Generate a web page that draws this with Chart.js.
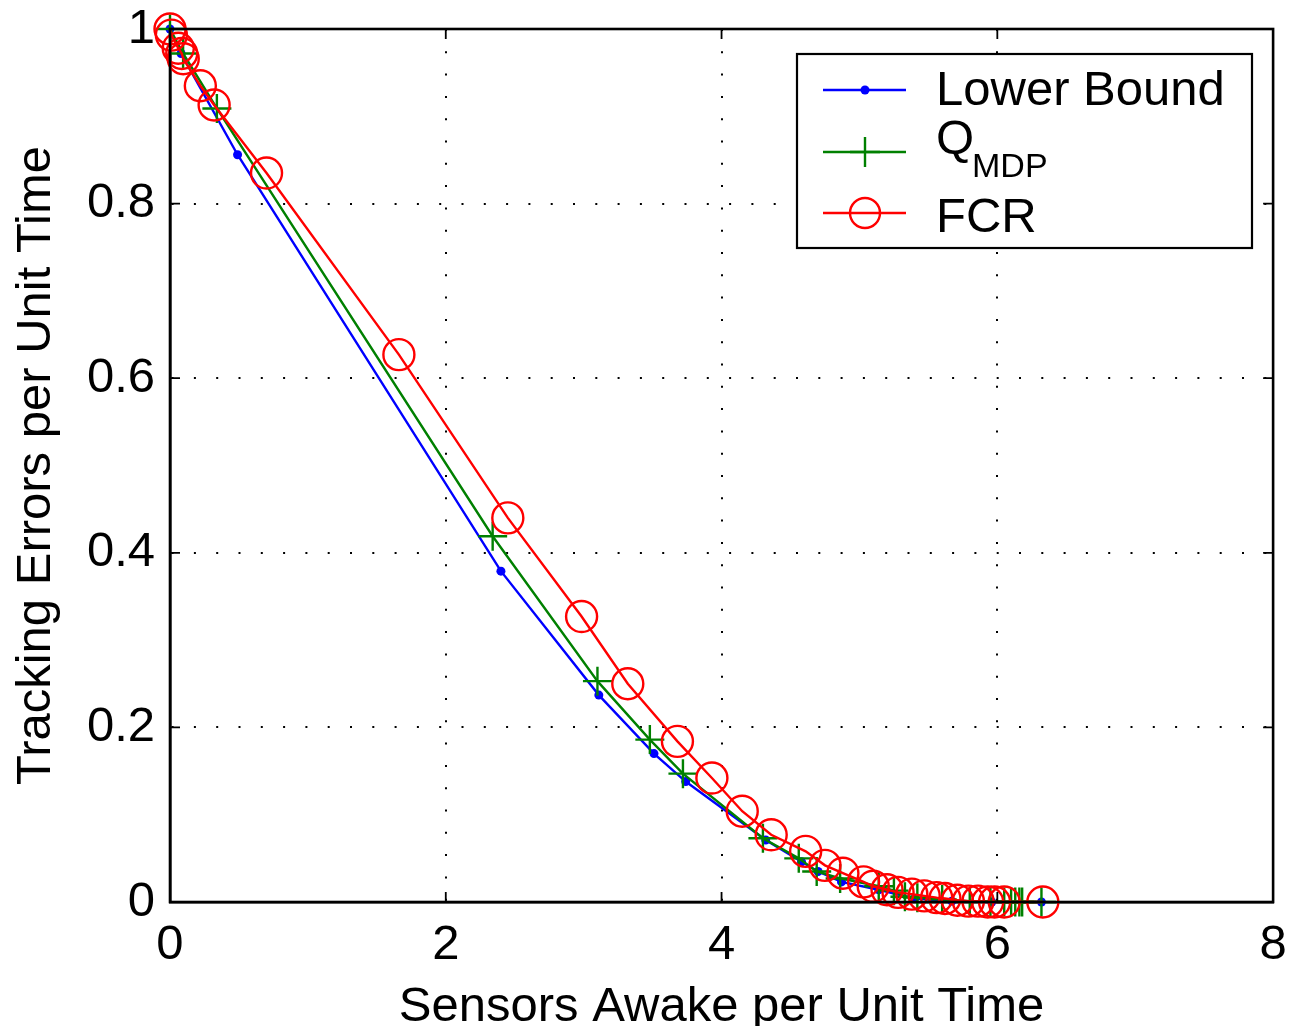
<!DOCTYPE html>
<html>
<head>
<meta charset="utf-8">
<script src="https://cdn.jsdelivr.net/npm/chart.js@4/dist/chart.umd.min.js"></script>
<style>
html,body{margin:0;padding:0;background:#fff;overflow:hidden;}
canvas{display:block;}
</style>
</head>
<body>
<canvas id="c" width="1291" height="1026"></canvas>
<script>
// ---- Data ----
const xTicks = [0, 2, 4, 6, 8];
const yTicks = [0, 0.2, 0.4, 0.6, 0.8, 1];
const xTickLabels = ['0', '2', '4', '6', '8'];
const yTickLabels = ['0', '0.2', '0.4', '0.6', '0.8', '1'];
const xTitle = 'Sensors Awake per Unit Time';
const yTitle = 'Tracking Errors per Unit Time';
const seriesNames = ['Lower Bound', 'Q', 'FCR'];
const seriesSub = ['', 'MDP', ''];

const lowerX = [0, 0.08, 0.49, 2.40, 3.11, 3.51, 3.74, 4.32, 4.58, 4.70, 4.87, 5.14, 5.40, 5.67, 5.96, 6.32];
const lowerY = [1, 0.972, 0.856, 0.379, 0.237, 0.170, 0.138, 0.071, 0.046, 0.035, 0.023, 0.014, 0.004, 0.001, 0, 0];

const qmdpX = [0, 0.095, 0.34, 2.34, 3.10, 3.48, 3.72, 4.30, 4.56, 4.69, 4.86, 5.14, 5.25, 5.33, 5.42, 5.60, 5.80, 5.95, 6.05, 6.10, 6.13, 6.16, 6.18, 6.32];
const qmdpY = [1, 0.972, 0.909, 0.419, 0.253, 0.186, 0.147, 0.073, 0.050, 0.035, 0.027, 0.018, 0.013, 0.006, 0.005, 0.003, 0.001, 0.0005, 0, 0, 0, 0, 0, 0];

const fcrX = [0, 0.01, 0.06, 0.085, 0.096, 0.22, 0.32, 0.70, 1.66, 2.45, 2.985, 3.32, 3.68, 3.93, 4.15, 4.36, 4.61, 4.75, 4.88, 5.03, 5.10, 5.20, 5.28, 5.38, 5.47, 5.56, 5.62, 5.71, 5.79, 5.86, 5.93, 5.98, 6.05, 6.33];
const fcrY = [1.0, 0.993, 0.978, 0.972, 0.966, 0.935, 0.913, 0.835, 0.627, 0.440, 0.327, 0.250, 0.184, 0.142, 0.104, 0.077, 0.058, 0.042, 0.033, 0.023, 0.018, 0.014, 0.011, 0.009, 0.007, 0.005, 0.004, 0.002, 0.001, 0.001, 0, 0, 0, 0];

const toPts = (xs, ys) => xs.map((x, i) => ({x: x, y: ys[i]}));

const FONT = '"Liberation Sans", Arial, Helvetica, sans-serif';
const BLUE = '#0000ff', GREEN = '#008000', RED = '#ff0000';

// Frame, inward ticks and legend
const framePlugin = {
  id: 'frame',
  afterDraw(chart) {
    const ctx = chart.ctx;
    const a = chart.chartArea;
    const xs = chart.scales.x, ys = chart.scales.y;
    ctx.save();
    ctx.strokeStyle = '#000';
    ctx.lineWidth = 1.8;
    const tl = 10;
    xTicks.forEach(v => {
      const px = xs.getPixelForValue(v);
      ctx.beginPath();
      ctx.moveTo(px, a.bottom); ctx.lineTo(px, a.bottom - tl);
      ctx.moveTo(px, a.top); ctx.lineTo(px, a.top + tl);
      ctx.stroke();
    });
    yTicks.forEach(v => {
      const py = ys.getPixelForValue(v);
      ctx.beginPath();
      ctx.moveTo(a.left, py); ctx.lineTo(a.left + tl, py);
      ctx.moveTo(a.right, py); ctx.lineTo(a.right - tl, py);
      ctx.stroke();
    });
    ctx.lineWidth = 2.6;
    ctx.strokeRect(a.left, a.top, a.right - a.left, a.bottom - a.top);
    ctx.restore();
  }
};

const legendPlugin = {
  id: 'mlegend',
  afterDraw(chart) {
    const ctx = chart.ctx;
    const box = {x: 797, y: 54, w: 455, h: 194};
    ctx.save();
    ctx.fillStyle = '#fff';
    ctx.fillRect(box.x, box.y, box.w, box.h);
    ctx.strokeStyle = '#000';
    ctx.lineWidth = 2.2;
    ctx.strokeRect(box.x, box.y, box.w, box.h);
    const rowsY = [90, 152, 213];
    const colors = [BLUE, GREEN, RED];
    const x1 = 823, x2 = 906, mx = 865;
    rowsY.forEach((ry, i) => {
      ctx.strokeStyle = colors[i];
      ctx.lineWidth = 2.4;
      ctx.beginPath(); ctx.moveTo(x1, ry); ctx.lineTo(x2, ry); ctx.stroke();
      if (i === 0) {
        ctx.fillStyle = BLUE;
        ctx.beginPath(); ctx.arc(mx, ry, 4.5, 0, Math.PI * 2); ctx.fill();
      } else if (i === 1) {
        ctx.beginPath();
        ctx.moveTo(mx - 15, ry); ctx.lineTo(mx + 15, ry);
        ctx.moveTo(mx, ry - 15); ctx.lineTo(mx, ry + 15);
        ctx.stroke();
      } else {
        ctx.beginPath(); ctx.arc(mx, ry, 15, 0, Math.PI * 2); ctx.stroke();
      }
    });
    ctx.fillStyle = '#000';
    ctx.textAlign = 'left';
    ctx.textBaseline = 'alphabetic';
    ctx.font = '49px ' + FONT;
    ctx.fillText(seriesNames[0], 936, 105);
    ctx.fillText(seriesNames[1], 936, 154);
    ctx.fillText(seriesNames[2], 936, 232);
    ctx.font = '34px ' + FONT;
    ctx.fillText(seriesSub[1], 972, 177);
    ctx.restore();
  }
};

new Chart(document.getElementById('c'), {
  type: 'scatter',
  data: {
    datasets: [
      {
        label: 'Lower Bound',
        data: toPts(lowerX, lowerY),
        showLine: true,
        borderColor: BLUE,
        backgroundColor: BLUE,
        borderWidth: 2.4,
        pointStyle: 'circle',
        pointRadius: 4.5,
        pointBorderWidth: 0,
        pointBackgroundColor: BLUE,
        clip: false,
        order: 3
      },
      {
        label: 'QMDP',
        data: toPts(qmdpX, qmdpY),
        showLine: true,
        borderColor: GREEN,
        backgroundColor: GREEN,
        borderWidth: 2.4,
        pointStyle: 'cross',
        pointRadius: 14.5,
        pointBorderWidth: 2.4,
        pointBorderColor: GREEN,
        clip: false,
        order: 2
      },
      {
        label: 'FCR',
        data: toPts(fcrX, fcrY),
        showLine: true,
        borderColor: RED,
        backgroundColor: 'rgba(0,0,0,0)',
        borderWidth: 2.4,
        pointStyle: 'circle',
        pointRadius: 15.5,
        pointBorderWidth: 2.4,
        pointBorderColor: RED,
        pointBackgroundColor: 'rgba(0,0,0,0)',
        clip: false,
        order: 1
      }
    ]
  },
  options: {
    responsive: false,
    animation: false,
    events: [],
    layout: {padding: {left: 0, right: 13, top: 29, bottom: 0}},
    plugins: {legend: {display: false}, tooltip: {enabled: false}, title: {display: false}},
    elements: {line: {tension: 0}},
    scales: {
      x: {
        type: 'linear',
        min: 0, max: 8,
        afterBuildTicks: s => { s.ticks = xTicks.map(v => ({value: v})); },
        afterFit: s => { s.height = 124; s.paddingLeft = 0; s.paddingRight = 0; },
        ticks: {
          padding: 14,
          color: '#000',
          font: {family: FONT, size: 49},
          maxRotation: 0,
          callback: (v) => { const i = xTicks.indexOf(v); return i >= 0 ? xTickLabels[i] : ''; }
        },
        grid: {
          color: (c) => (c.tick && (c.tick.value === 0 || c.tick.value === 8)) ? 'rgba(0,0,0,0)' : '#000',
          lineWidth: 2,
          drawTicks: false
        },
        border: {display: true, color: '#000', width: 2.6, dash: [2, 20.3]},
        title: {
          display: true,
          text: xTitle,
          color: '#000',
          font: {family: FONT, size: 49},
          padding: {top: 0, bottom: -11}
        }
      },
      y: {
        type: 'linear',
        min: 0, max: 1,
        afterBuildTicks: s => { s.ticks = yTicks.map(v => ({value: v})); },
        afterFit: s => { s.width = 170; s.paddingTop = 0; s.paddingBottom = 0; },
        ticks: {
          padding: 15,
          color: '#000',
          font: {family: FONT, size: 49},
          callback: (v) => { const i = yTicks.indexOf(v); return i >= 0 ? yTickLabels[i] : ''; }
        },
        grid: {
          color: (c) => (c.tick && (c.tick.value === 0 || c.tick.value === 1)) ? 'rgba(0,0,0,0)' : '#000',
          lineWidth: 2,
          drawTicks: false
        },
        border: {display: true, color: '#000', width: 2.6, dash: [2, 20.3]},
        title: {
          display: true,
          text: yTitle,
          color: '#000',
          font: {family: FONT, size: 49},
          padding: {top: 7, bottom: 0}
        }
      }
    }
  },
  plugins: [framePlugin, legendPlugin]
});
</script>
</body>
</html>
